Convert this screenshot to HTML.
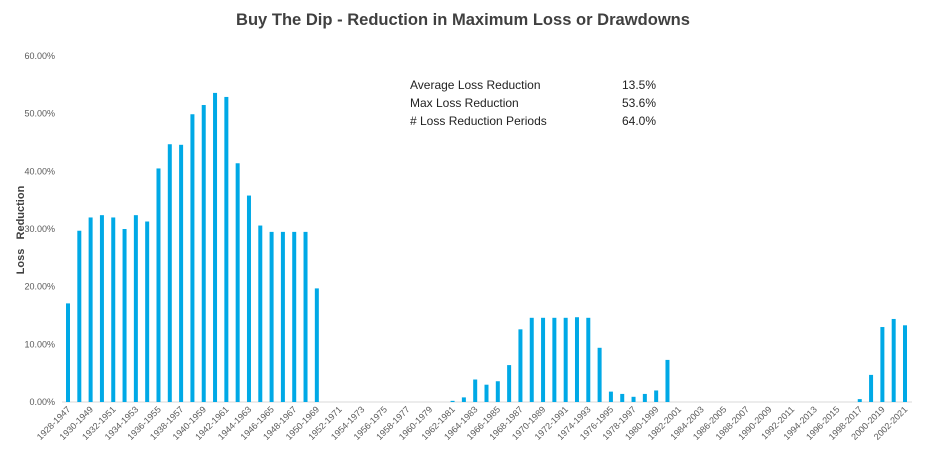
<!DOCTYPE html>
<html><head><meta charset="utf-8"><style>
html,body{margin:0;padding:0;background:#fff;}
svg{display:block;font-family:"Liberation Sans",sans-serif;}
</style></head><body>
<svg id="chart" width="925" height="454" viewBox="0 0 925 454" xmlns="http://www.w3.org/2000/svg">
<text x="463" y="25" text-anchor="middle" font-size="17" font-weight="bold" fill="#404040" textLength="454" lengthAdjust="spacingAndGlyphs">Buy The Dip - Reduction in Maximum Loss or Drawdowns</text>
<text transform="translate(24,230) rotate(-90)" text-anchor="middle" font-size="11" font-weight="bold" fill="#404040" xml:space="preserve">Loss   Reduction</text>
<g font-size="12" fill="#222">
<text x="410" y="89">Average Loss Reduction</text>
<text x="622" y="89">13.5%</text>
<text x="410" y="107">Max Loss Reduction</text>
<text x="622" y="107">53.6%</text>
<text x="410" y="125"># Loss Reduction Periods</text>
<text x="622" y="125">64.0%</text>
</g>
<g id="yaxis"></g><g id="bars"></g><g id="xaxis"></g>
</svg>
<script>
const startYears = [];
for (let y = 1928; y <= 2002; y++) startYears.push(y);
const values = [17.1,29.7,32.0,32.4,32.0,30.0,32.4,31.3,40.5,44.7,44.6,49.9,51.5,53.6,52.9,41.4,35.8,30.6,29.5,29.5,29.5,29.5,19.7,
0,0,0,0,0,0,0,0,0,0,0,
0.2,0.8,3.9,3.0,3.6,6.4,12.6,14.6,14.6,14.6,14.6,14.7,14.6,9.4,1.8,1.4,0.9,1.4,2.0,7.3,
0,0,0,0,0,0,0,0,0,0,0,0,0,0,0,0,
0.5,4.7,13.0,14.4,13.3];
const yTicks = [0,10,20,30,40,50,60];
const ns = "http://www.w3.org/2000/svg";
const svg = document.getElementById('chart');
const y0 = 402, pxPer = (402-56)/60;
const yScale = v => y0 - v*pxPer;
const x0 = 68, step = (905-68)/74;
const xScale = i => x0 + i*step;
function mk(tag, attrs, parent){const e=document.createElementNS(ns,tag);for(const k in attrs)e.setAttribute(k,attrs[k]);parent.appendChild(e);return e;}
const gy = document.getElementById('yaxis');
yTicks.forEach(t=>{
  const e = mk('text',{x:55,y:yScale(t)+3,'text-anchor':'end','font-size':'9',fill:'#595959'},gy);
  
  
  e.textContent = t.toFixed(2)+'%';
});
const base = mk('line',{x1:62,x2:912,y1:y0,y2:y0,stroke:'#d9d9d9','stroke-width':1},gy);


const gb = document.getElementById('bars');
values.forEach((v,i)=>{
  const r = mk('rect',{x:xScale(i)-2,y:yScale(v),width:4,height:Math.max(0,y0-yScale(v)),fill:'#00a9e6'},gb);
  
  
});
const gx = document.getElementById('xaxis');
startYears.forEach((y,i)=>{
  if(i%2) return;
  const x = xScale(i)+3, yy = 410;
  const t = mk('text',{x:x,y:yy,'text-anchor':'end','font-size':'9',fill:'#595959',transform:`rotate(-45 ${x} ${yy})`},gx);
  
  
  t.textContent = y+'-'+(y+19);
});
</script>
</body></html>
